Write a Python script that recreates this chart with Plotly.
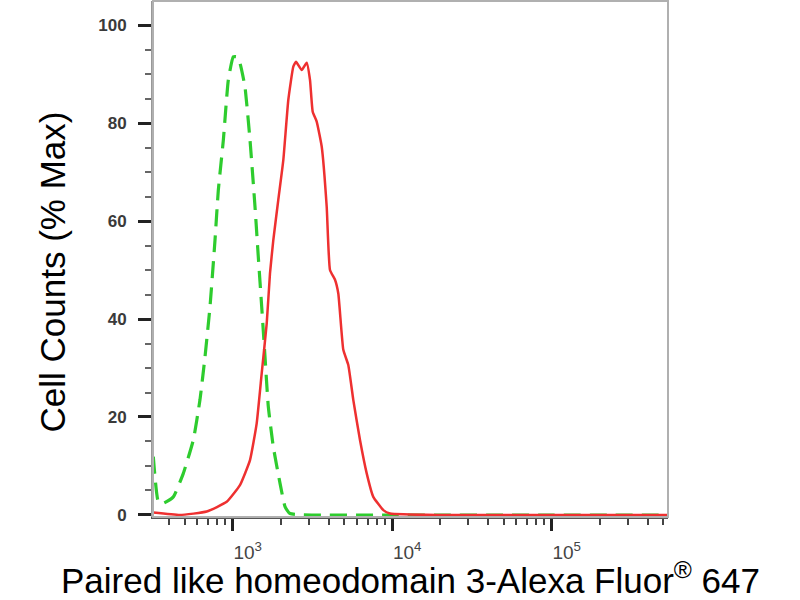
import plotly.graph_objects as go

# Red (stained sample) histogram: fluorescence intensity vs % max
red_x = [317.6, 467, 686.6, 916.5, 1110, 1283, 1413, 1519, 1633, 1712, 1796, 1930,
         2075, 2230, 2397, 2492, 2706, 2908, 3050, 3172, 3360, 3612, 3882, 4071,
         4377, 4590, 4934, 5303, 5698, 6278, 6917, 7606, 8788, 9681, 20000, 100000, 535000]
red_y = [0.5, 0.0, 0.7, 2.7, 6.1, 11.2, 18.7, 28.9, 39.1, 49.3, 56.1, 64.3,
         72.4, 84.7, 91.5, 92.5, 90.8, 92.3, 88.8, 82.3, 80.3, 75.2, 62.9, 50.0,
         48.0, 45.2, 33.7, 30.6, 23.5, 15.3, 8.5, 3.7, 1.0, 0.3, 0.0, 0.0, 0.0]

# Green (isotype control) histogram
green_x = [317.6, 341.5, 367, 424, 490, 566, 623, 670, 720, 774, 812, 873, 938,
           1008, 1059, 1110, 1193, 1283, 1379, 1446, 1519, 1593, 1671, 1796, 1978,
           2127, 2285, 10000, 100000, 535000]
green_y = [11.9, 2.7, 2.4, 3.7, 8.5, 15.3, 23.5, 32.3, 42.5, 56.1, 66.3, 76.5, 88.8,
           93.5, 93.5, 92.2, 87.4, 76.5, 62.9, 52.7, 42.5, 32.3, 22.1, 13.9, 6.5,
           1.7, 0.3, 0.0, 0.0, 0.0]

x_major = [1000, 10000, 100000]
x_major_text = ["10<sup>3</sup>", "10<sup>4</sup>", "10<sup>5</sup>"]
x_minor = [400, 500, 600, 700, 800, 900,
           2000, 3000, 4000, 5000, 6000, 7000, 8000, 9000,
           20000, 30000, 40000, 50000, 60000, 70000, 80000, 90000,
           200000, 300000, 400000, 500000]
y_major = [0, 20, 40, 60, 80, 100]

x_title = "Paired like homeodomain 3-Alexa Fluor<sup>®</sup> 647"
y_title = "Cell Counts (% Max)"

fig = go.Figure()
fig.add_trace(go.Scatter(x=green_x, y=green_y, mode="lines",
                         line=dict(color="#2ecc2e", width=3.2, dash="17px,9px",
                                   shape="spline", smoothing=0.4),
                         showlegend=False))
fig.add_trace(go.Scatter(x=red_x, y=red_y, mode="lines",
                         line=dict(color="#ee3030", width=2.5,
                                   shape="spline", smoothing=0.4),
                         showlegend=False))

fig.update_layout(
    width=800, height=600,
    margin=dict(l=153, r=132, t=1, b=83),
    paper_bgcolor="white", plot_bgcolor="white",
    font=dict(family="Liberation Sans, Arial, sans-serif", color="black"),
    shapes=[dict(type="rect", xref="paper", yref="paper", x0=0, y0=0, x1=1, y1=1,
                 line=dict(color="#b0b0b0", width=2), layer="above")],
    annotations=[dict(text=y_title, textangle=-90, xref="paper", yref="paper",
                      x=-0.196, y=0.474, xanchor="center", yanchor="middle",
                      showarrow=False, font=dict(size=35, color="black"))],
)

fig.update_xaxes(
    type="log", range=[2.5, 5.729], showgrid=False, zeroline=False,
    showline=True, linecolor="#555555", linewidth=1.5,
    tickmode="array", tickvals=x_major, ticktext=x_major_text,
    ticks="outside", ticklen=12, tickwidth=2.5, tickcolor="#222222",
    ticklabelshift=15, ticklabelstandoff=5,
    tickfont=dict(family="Liberation Sans, Arial", size=19, color="#444444"),
    minor=dict(tickmode="array", tickvals=x_minor, ticks="outside", ticklen=6,
               tickwidth=1.5, tickcolor="#444444", showgrid=False),
    title=dict(text=x_title, font=dict(size=35, color="black"), standoff=2),
    automargin=False,
)
fig.update_yaxes(
    range=[-0.41, 104.9], showgrid=False, zeroline=False,
    showline=True, linecolor="#999999", linewidth=2,
    tickmode="array", tickvals=y_major,
    ticks="outside", ticklen=13, tickwidth=3, tickcolor="#222222",
    ticklabelstandoff=8,
    tickfont=dict(family="Liberation Sans, Arial", size=17, color="#3a3a3a",
                  weight="bold"),
    minor=dict(dtick=5, ticks="outside", ticklen=6, tickwidth=1.5,
               tickcolor="#666666", showgrid=False),
    automargin=False,
)

fig.write_html("out.html", config={"displayModeBar": False},
               post_script="document.body.style.margin='0px';document.body.style.padding='0px';")
